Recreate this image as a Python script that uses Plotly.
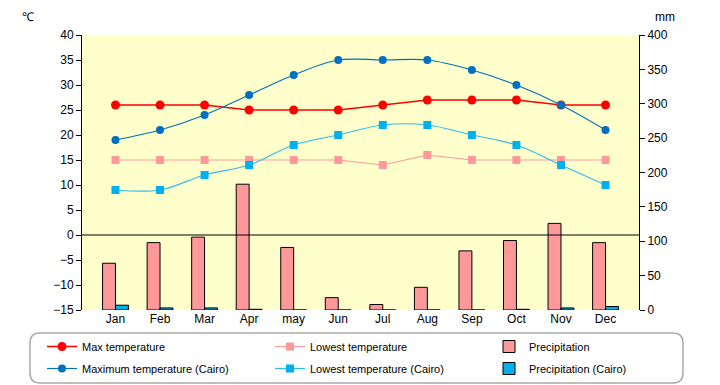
import plotly.graph_objects as go

months = ["Jan", "Feb", "Mar", "Apr", "may", "Jun", "Jul", "Aug", "Sep", "Oct", "Nov", "Dec"]
max_temp = [26, 26, 26, 25, 25, 25, 26, 27, 27, 27, 26, 26]
low_temp = [15, 15, 15, 15, 15, 15, 14, 16, 15, 15, 15, 15]
max_cairo = [19, 21, 24, 28, 32, 35, 35, 35, 33, 30, 26, 21]
low_cairo = [9, 9, 12, 14, 18, 20, 22, 22, 20, 18, 14, 10]
precip = [68, 98, 106, 183, 91, 18, 8, 33, 86, 101, 126, 98]
precip_cairo = [7, 3, 3, 1, 0, 0, 0, 0, 0, 1, 3, 5]

W, H = 720, 385
L, R, T, B = 82, 81, 35, 75
PW, PH = W - L - R, H - T - B

def px_x(p):
    return (p - L) / PW

def px_y(p):
    return (H - B - p) / PH

FONT = "Liberation Sans"

fig = go.Figure()
fig.add_trace(go.Bar(x=months, y=precip, name="Precipitation", yaxis="y2",
                     marker=dict(color="#FF9999", line=dict(color="black", width=1)),
                     legend="legend3", legendgroup="p1"))
fig.add_trace(go.Bar(x=months, y=precip_cairo, name="Precipitation (Cairo)", yaxis="y2",
                     marker=dict(color="#00B0F0", line=dict(color="black", width=1)),
                     legend="legend3", legendgroup="p2"))
fig.add_trace(go.Scatter(x=months, y=max_temp, name="Max temperature", mode="lines+markers",
                         line=dict(color="#FF0000", width=1.5),
                         marker=dict(symbol="circle", size=9, color="#FF0000"),
                         legend="legend", legendgroup="m1"))
fig.add_trace(go.Scatter(x=months, y=max_cairo, name="Maximum temperature (Cairo)", mode="lines+markers",
                         line=dict(color="#0070C0", width=1.2, shape="spline"),
                         marker=dict(symbol="circle", size=8, color="#0070C0"),
                         legend="legend", legendgroup="m2"))
fig.add_trace(go.Scatter(x=months, y=low_temp, name="Lowest temperature", mode="lines+markers",
                         line=dict(color="#FF9999", width=1),
                         marker=dict(symbol="square", size=8, color="#FF9999"),
                         legend="legend2", legendgroup="l1"))
fig.add_trace(go.Scatter(x=months, y=low_cairo, name="Lowest temperature (Cairo)", mode="lines+markers",
                         line=dict(color="#33BBEE", width=1.2, shape="spline"),
                         marker=dict(symbol="square", size=8, color="#00B0F0"),
                         legend="legend2", legendgroup="l2"))

# rounded legend box
x0, x1, y0, y1, r = 30, 683, 333, 383, 10
rx, ry = r / PW, r / PH
X0, X1, Y0, Y1 = px_x(x0), px_x(x1), px_y(y1), px_y(y0)
path = (f"M {X0+rx},{Y1} L {X1-rx},{Y1} Q {X1},{Y1} {X1},{Y1-ry} "
        f"L {X1},{Y0+ry} Q {X1},{Y0} {X1-rx},{Y0} L {X0+rx},{Y0} "
        f"Q {X0},{Y0} {X0},{Y0+ry} L {X0},{Y1-ry} Q {X0},{Y1} {X0+rx},{Y1} Z")

legend_common = dict(orientation="v", yanchor="top", xanchor="left", bgcolor="rgba(0,0,0,0)",
                     font=dict(family=FONT, size=11, color="black"), tracegroupgap=3,
                     traceorder="grouped", itemclick=False)

fig.update_layout(
    width=W, height=H,
    margin=dict(l=L, r=R, t=T, b=B, autoexpand=False),
    paper_bgcolor="white",
    plot_bgcolor="#FFFFCC",
    barmode="group", bargap=0.42, bargroupgap=0,
    font=dict(family=FONT, size=12, color="black"),
    xaxis=dict(showgrid=False, ticks="", showline=False, zeroline=False,
               tickfont=dict(size=12)),
    yaxis=dict(range=[-15, 40], dtick=5, showgrid=False, zeroline=False,
               showline=True, linecolor="black", linewidth=1,
               ticks="outside", ticklen=5, tickcolor="black"),
    yaxis2=dict(range=[0, 400], dtick=50, overlaying="y", side="right", showgrid=False,
                zeroline=False, showline=True, linecolor="black", linewidth=1,
                ticks="outside", ticklen=5, tickcolor="black"),
    legend=dict(x=px_x(42), y=px_y(332), **legend_common),
    legend2=dict(x=px_x(270), y=px_y(332), **legend_common),
    legend3=dict(x=px_x(489), y=px_y(332), **legend_common),
    shapes=[
        dict(type="line", xref="paper", x0=0, x1=1, yref="y", y0=0, y1=0,
             line=dict(color="black", width=1), layer="above"),
        dict(type="path", xref="paper", yref="paper", path=path,
             line=dict(color="#AAAAAA", width=1.5), fillcolor="rgba(0,0,0,0)", layer="below"),
    ],
    annotations=[
        dict(text="℃", xref="paper", yref="paper", x=px_x(28), y=px_y(17),
             xanchor="center", yanchor="middle", showarrow=False, font=dict(size=12)),
        dict(text="mm", xref="paper", yref="paper", x=px_x(665), y=px_y(17),
             xanchor="center", yanchor="middle", showarrow=False, font=dict(size=12)),
    ],
    showlegend=True,
)

fig.write_html("out.html", config={"displayModeBar": False},
               post_script="document.body.style.margin='0px';document.body.style.overflow='hidden';")
